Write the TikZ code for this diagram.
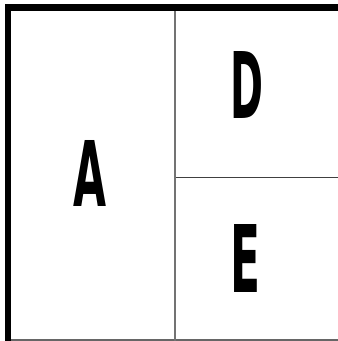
\documentclass[tikz,border=0pt]{standalone}
\usepackage{fontspec}
\usepackage{pdfrender}
\setmainfont{DejaVu Sans}
\newcommand{\heavyletter}[1]{\textpdfrender{TextRenderingMode=FillStroke,LineWidth=0.9pt,LineJoin=1}{\textbf{#1}}}
\begin{document}
\begin{tikzpicture}[x=1pt,y=-1pt,
  thickbar/.style={fill=black},
  vdiv/.style={draw=black!55,line width=2pt},
  hdiv/.style={draw=black!75,line width=1.3pt},
  bline/.style={draw=black!60,line width=1.5pt},
  letter/.style={inner sep=0pt,outer sep=0pt}]
\useasboundingbox (0,0) rectangle (338,341);
\fill[white] (0,0) rectangle (338,341);
% dividers
\coordinate (vt) at (175,11);
\coordinate (vb) at (175,341);
\coordinate (hl) at (176,177.5);
\coordinate (hr) at (338,177.5);
\coordinate (bl) at (11,340.2);
\coordinate (br) at (338,340.2);
\draw[bline] (bl) -- (br);
\draw[vdiv] (vt) -- (vb);
\draw[hdiv] (hl) -- (hr);
% thick frame
\fill[thickbar] (5,4) rectangle (338,11);
\fill[thickbar] (5,4) rectangle (11,341);
% letters
\node[letter] (A) at (90.5,173) {\resizebox{33pt}{66pt}{\heavyletter{A}}};
\node[letter] (D) at (247.5,84.5) {\resizebox{33pt}{67pt}{\heavyletter{D}}};
\node[letter] (E) at (246,258) {\resizebox{30pt}{68pt}{\heavyletter{E}}};
\end{tikzpicture}
\end{document}
